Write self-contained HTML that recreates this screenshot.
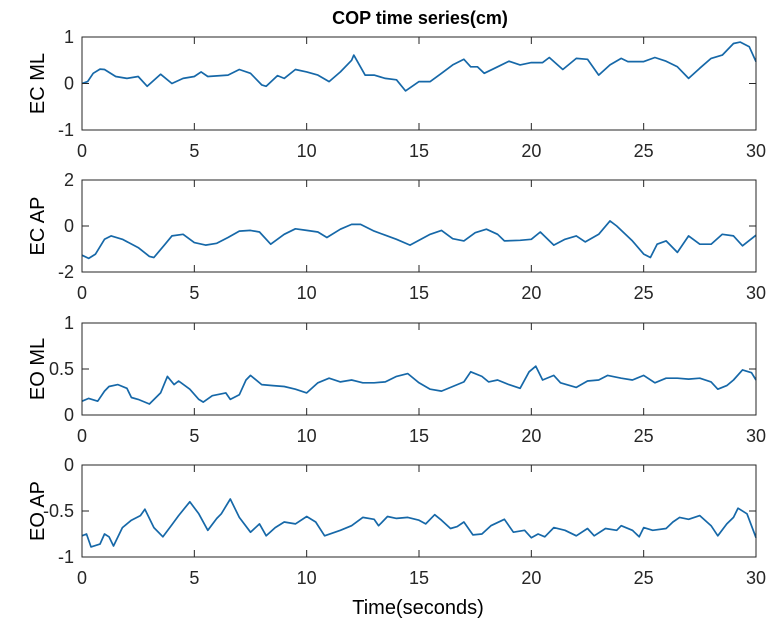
<!DOCTYPE html>
<html><head><meta charset="utf-8"><style>
body{margin:0;background:#fff;}
svg{display:block;font-family:"Liberation Sans",sans-serif;}
</style></head><body>
<svg id="chart" width="772" height="632" viewBox="0 0 772 632" xmlns="http://www.w3.org/2000/svg">
<rect width="772" height="632" fill="#fff"/>
<text x="420" y="24" text-anchor="middle" font-size="18" font-weight="bold">COP time series(cm)</text>
<text x="418" y="614" text-anchor="middle" font-size="20">Time(seconds)</text>
<g id="plots"></g>
</svg>
<script>
const xTicks = [0,5,10,15,20,25,30];
const panelNames = ["EC ML","EC AP","EO ML","EO AP"];
const yTicks1 = [-1,0,1];
const yTicks2 = [-2,0,2];
const yTicks3 = [0,0.5,1];
const yTicks4 = [-1,-0.5,0];
const t1 = [0,0.25,0.5,0.8,1,1.5,2,2.5,2.9,3.5,4,4.5,5,5.3,5.6,6.5,7,7.5,8,8.2,8.7,9,9.5,10,10.5,11,11.5,12,12.1,12.6,13,13.5,14,14.4,15,15.5,16,16.5,17,17.3,17.6,17.9,18.5,19,19.5,20,20.5,20.8,21.4,22,22.5,23,23.5,24,24.3,25,25.5,26,26.5,27,27.5,28,28.5,29,29.3,29.7,30];
const v1 = [0,0.04,0.22,0.31,0.3,0.15,0.11,0.15,-0.06,0.2,0,0.11,0.15,0.25,0.15,0.18,0.3,0.22,-0.03,-0.06,0.17,0.11,0.3,0.25,0.18,0.04,0.25,0.5,0.61,0.18,0.18,0.11,0.08,-0.16,0.04,0.04,0.22,0.4,0.52,0.36,0.36,0.22,0.36,0.48,0.4,0.45,0.45,0.56,0.3,0.54,0.52,0.18,0.4,0.54,0.47,0.47,0.56,0.48,0.36,0.11,0.33,0.54,0.61,0.86,0.89,0.79,0.47];
const t2 = [0,0.3,0.6,1,1.3,1.8,2.5,3,3.2,3.7,4,4.5,5,5.5,6,6.5,7,7.5,7.9,8.4,9,9.5,10,10.5,10.9,11.5,12,12.4,13,13.5,14,14.6,15.5,16,16.5,17,17.5,18,18.5,18.8,19.5,20,20.4,21,21.5,22,22.4,23,23.5,23.8,24.5,25,25.3,25.6,26,26.5,27,27.5,28,28.5,29,29.4,30];
const v2 = [-1.27,-1.41,-1.22,-0.58,-0.43,-0.58,-0.94,-1.32,-1.37,-0.79,-0.43,-0.36,-0.72,-0.83,-0.75,-0.5,-0.22,-0.19,-0.26,-0.79,-0.36,-0.12,-0.19,-0.26,-0.5,-0.14,0.07,0.07,-0.22,-0.4,-0.58,-0.83,-0.36,-0.19,-0.55,-0.65,-0.29,-0.14,-0.36,-0.65,-0.62,-0.58,-0.26,-0.83,-0.58,-0.43,-0.69,-0.36,0.22,0,-0.65,-1.22,-1.37,-0.79,-0.65,-1.15,-0.43,-0.79,-0.79,-0.36,-0.43,-0.86,-0.4];
const t3 = [0,0.3,0.7,1,1.2,1.6,2,2.2,2.5,3,3.5,3.8,4.1,4.3,4.8,5.2,5.4,5.8,6.4,6.6,7,7.3,7.5,8,8.5,9,9.5,10,10.5,11,11.5,12,12.5,13,13.5,14,14.5,15,15.5,16,16.5,17,17.3,17.8,18.1,18.5,19,19.5,19.9,20.2,20.5,21,21.3,22,22.5,23,23.4,24,24.5,25,25.5,26,26.5,27,27.5,28,28.3,28.7,29,29.4,29.8,30];
const v3 = [0.15,0.18,0.15,0.26,0.31,0.33,0.29,0.19,0.17,0.12,0.24,0.42,0.33,0.37,0.28,0.17,0.14,0.21,0.24,0.17,0.22,0.38,0.43,0.33,0.32,0.31,0.28,0.24,0.35,0.4,0.36,0.38,0.35,0.35,0.36,0.42,0.45,0.35,0.28,0.26,0.31,0.36,0.47,0.42,0.36,0.38,0.33,0.29,0.47,0.53,0.38,0.43,0.35,0.3,0.37,0.38,0.43,0.4,0.38,0.43,0.35,0.4,0.4,0.39,0.4,0.36,0.28,0.32,0.38,0.49,0.46,0.38];
const t4 = [0,0.2,0.4,0.8,1,1.2,1.4,1.8,2.2,2.6,2.8,3.2,3.6,4,4.3,4.8,5.2,5.6,6,6.2,6.6,7,7.5,7.9,8.2,8.6,9,9.5,10,10.4,10.8,11.5,12,12.5,13,13.2,13.6,14,14.5,15,15.3,15.7,16,16.4,16.7,17,17.4,17.8,18.2,18.8,19.2,19.7,20,20.3,20.6,21,21.5,22,22.5,22.8,23.3,23.8,24,24.5,24.8,25,25.4,26,26.3,26.6,27,27.5,28,28.3,28.7,29,29.2,29.6,30];
const v4 = [-0.77,-0.75,-0.89,-0.86,-0.75,-0.78,-0.88,-0.68,-0.6,-0.55,-0.48,-0.68,-0.78,-0.65,-0.55,-0.4,-0.53,-0.71,-0.58,-0.53,-0.37,-0.57,-0.73,-0.64,-0.77,-0.68,-0.62,-0.64,-0.56,-0.62,-0.77,-0.71,-0.66,-0.57,-0.59,-0.66,-0.56,-0.58,-0.57,-0.6,-0.64,-0.54,-0.6,-0.69,-0.67,-0.62,-0.76,-0.75,-0.66,-0.59,-0.73,-0.71,-0.79,-0.75,-0.78,-0.68,-0.71,-0.77,-0.69,-0.77,-0.69,-0.71,-0.66,-0.71,-0.78,-0.68,-0.71,-0.69,-0.62,-0.57,-0.59,-0.55,-0.66,-0.77,-0.64,-0.57,-0.47,-0.53,-0.79];

const panels = [
 {top:37,bottom:130,ticks:yTicks1,t:t1,v:v1,key:"ec-ml"},
 {top:180,bottom:272,ticks:yTicks2,t:t2,v:v2,key:"ec-ap"},
 {top:323,bottom:415,ticks:yTicks3,t:t3,v:v3,key:"eo-ml"},
 {top:465,bottom:557,ticks:yTicks4,t:t4,v:v4,key:"eo-ap"}
];
const L=82, R=756, NS="http://www.w3.org/2000/svg";
const root=document.getElementById('plots');
function mk(tag,attrs,parent){const e=document.createElementNS(NS,tag);for(const k in attrs)e.setAttribute(k,attrs[k]);parent.appendChild(e);return e;}
const xs = t => L + (t-0)/(30-0)*(R-L);
panels.forEach((p,i)=>{
  const lo=p.ticks[0], hi=p.ticks[p.ticks.length-1];
  const ys = v => p.bottom - (v-lo)/(hi-lo)*(p.bottom-p.top);
  const g=mk('g',{},root);
  
  
  const ln=mk('polyline',{points:p.t.map((t,k)=>xs(t).toFixed(1)+','+ys(p.v[k]).toFixed(1)).join(' '),fill:'none',stroke:'#1668a8','stroke-width':1.7,'stroke-linejoin':'round'},g);
  
  
  const box=mk('rect',{x:L,y:p.top,width:R-L,height:p.bottom-p.top,fill:'none',stroke:'#262626','stroke-width':1},g);
  
  
  xTicks.forEach(t=>{
    const x=xs(t);
    mk('line',{x1:x,x2:x,y1:p.bottom,y2:p.bottom-7,stroke:'#262626'},g);
    mk('line',{x1:x,x2:x,y1:p.top,y2:p.top+7,stroke:'#262626'},g);
    const tx=mk('text',{x:x,y:p.bottom+27,'text-anchor':'middle','font-size':18,fill:'#262626'},g);
    tx.textContent=t;
    
    
  });
  p.ticks.forEach(v=>{
    const y=ys(v);
    mk('line',{x1:L,x2:L+7,y1:y,y2:y,stroke:'#262626'},g);
    mk('line',{x1:R,x2:R-7,y1:y,y2:y,stroke:'#262626'},g);
    const tx=mk('text',{x:74,y:y+6,'text-anchor':'end','font-size':18,fill:'#262626'},g);
    tx.textContent=v;
    
    
  });
  const cy=(p.top+p.bottom)/2;
  const yt=mk('text',{x:44,y:cy,'text-anchor':'middle','font-size':20,transform:'rotate(-90 44 '+cy+')',fill:'#000'},g);
  yt.textContent=panelNames[i];
  
  
});
</script>
</body></html>
